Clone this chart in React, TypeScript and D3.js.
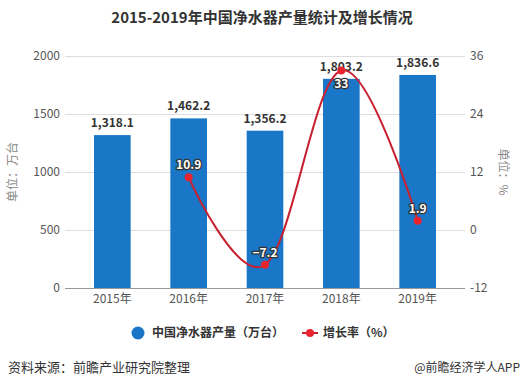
import React, { useEffect, useRef } from 'react';
import * as d3 from 'd3';

const years = ['2015年', '2016年', '2017年', '2018年', '2019年'];
const output = [1318.1, 1462.2, 1356.2, 1803.2, 1836.6];
const growthYears = ['2016年', '2017年', '2018年', '2019年'];
const growth = [10.9, -7.2, 33, 1.9];
const leftTicks = [0, 500, 1000, 1500, 2000];
const rightTicks = [-12, 0, 12, 24, 36];

const FONT = '"Noto Sans CJK SC", "Noto Sans", sans-serif';

export default function App() {
  const ref = useRef<SVGSVGElement>(null);

  useEffect(() => {
    const svg = d3.select(ref.current);
    svg.selectAll('*').remove();

    const W = 524, H = 388;
    const left = 65, right = 465, top = 56, bottom = 288;

    const x = d3.scaleBand<string>()
      .domain(years)
      .range([left, right])
      .paddingInner(0.52)
      .paddingOuter(0.38);
    const yL = d3.scaleLinear().domain([0, 2000]).range([bottom, top]);
    const yR = d3.scaleLinear().domain([-12, 36]).range([bottom, top]);
    const cx = (d: string) => (x(d) as number) + x.bandwidth() / 2;

    svg.append('rect').attr('width', W).attr('height', H).attr('fill', '#fff');

    // title
    svg.append('text')
      .attr('x', W / 2).attr('y', 23)
      .attr('text-anchor', 'middle')
      .attr('font-size', 15).attr('font-weight', 'bold')
      .attr('fill', '#333')
      .text('2015-2019年中国净水器产量统计及增长情况');

    // grid
    svg.append('g').selectAll('line')
      .data(leftTicks)
      .enter().append('line')
      .attr('x1', left).attr('x2', right)
      .attr('y1', d => yL(d) + 0.5).attr('y2', d => yL(d) + 0.5)
      .attr('stroke', d => (d === 0 ? '#999' : '#ddd'))
      .attr('stroke-width', 1);

    // left ticks
    svg.append('g').selectAll('text')
      .data(leftTicks)
      .enter().append('text')
      .attr('x', 60).attr('y', d => yL(d) + 4)
      .attr('text-anchor', 'end')
      .attr('font-size', 12).attr('fill', '#555')
      .text(d => String(d));

    // right ticks
    svg.append('g').selectAll('text')
      .data(rightTicks)
      .enter().append('text')
      .attr('x', 470).attr('y', d => yR(d) + 4)
      .attr('text-anchor', 'start')
      .attr('font-size', 12).attr('fill', '#555')
      .text(d => String(d));

    // axis titles
    svg.append('text')
      .attr('transform', `translate(17, ${(top + bottom) / 2}) rotate(-90)`)
      .attr('text-anchor', 'middle')
      .attr('font-size', 12).attr('fill', '#888')
      .text('单位：万台');
    svg.append('text')
      .attr('transform', `translate(499, ${(top + bottom) / 2}) rotate(90)`)
      .attr('text-anchor', 'middle')
      .attr('font-size', 12).attr('fill', '#888')
      .text('单位：%');

    // x labels
    svg.append('g').selectAll('text')
      .data(years)
      .enter().append('text')
      .attr('x', d => cx(d)).attr('y', 303)
      .attr('text-anchor', 'middle')
      .attr('font-size', 12).attr('fill', '#555')
      .text(d => d);

    // bars
    svg.append('g').selectAll('rect')
      .data(output)
      .enter().append('rect')
      .attr('x', (d, i) => x(years[i]) as number)
      .attr('y', d => yL(d))
      .attr('width', x.bandwidth())
      .attr('height', d => bottom - yL(d))
      .attr('fill', '#1a76c6');

    svg.append('g').selectAll('text')
      .data(output)
      .enter().append('text')
      .attr('x', (d, i) => cx(years[i]))
      .attr('y', d => yL(d) - 8)
      .attr('text-anchor', 'middle')
      .attr('font-size', 12).attr('font-weight', 'bold')
      .attr('fill', '#333')
      .text(d => d3.format(',.1f')(d));

    // growth line
    const pts: [number, number][] = growth.map((g, i) => [cx(growthYears[i]), yR(g)]);
    svg.append('path')
      .attr('d', d3.line().curve(d3.curveCardinal.tension(-0.1))(pts) as string)
      .attr('fill', 'none')
      .attr('stroke', '#c8202f')
      .attr('stroke-width', 2);

    svg.append('g').selectAll('circle')
      .data(pts)
      .enter().append('circle')
      .attr('cx', d => d[0]).attr('cy', d => d[1])
      .attr('r', 4)
      .attr('fill', '#e8242e');

    svg.append('g').selectAll('text')
      .data(growth)
      .enter().append('text')
      .attr('x', (d, i) => pts[i][0])
      .attr('y', (d, i) => (pts[i][1] - 12 < top + 20 ? pts[i][1] + 17 : pts[i][1] - 8))
      .attr('text-anchor', 'middle')
      .attr('font-size', 12).attr('font-weight', 'bold')
      .attr('fill', '#fff')
      .attr('stroke', '#333').attr('stroke-width', 2.5)
      .attr('stroke-linejoin', 'round')
      .attr('paint-order', 'stroke')
      .text(d => (d < 0 ? '−' + Math.abs(d) : String(d)));

    // legend
    const lg = svg.append('g').attr('font-size', 12).attr('fill', '#333');
    lg.append('circle').attr('cx', 138).attr('cy', 333).attr('r', 6.5).attr('fill', '#1a76c6');
    lg.append('text').attr('x', 152).attr('y', 337).attr('font-weight', 'bold')
      .text('中国净水器产量（万台）');
    lg.append('line').attr('x1', 302).attr('x2', 318).attr('y1', 333).attr('y2', 333)
      .attr('stroke', '#c8202f').attr('stroke-width', 2);
    lg.append('circle').attr('cx', 310).attr('cy', 333).attr('r', 4).attr('fill', '#e8242e');
    lg.append('text').attr('x', 323).attr('y', 337).attr('font-weight', 'bold')
      .text('增长率（%）');

    // footer
    svg.append('text')
      .attr('x', 8).attr('y', 372)
      .attr('font-size', 13).attr('fill', '#333')
      .text('资料来源：前瞻产业研究院整理');
    svg.append('text')
      .attr('x', 520).attr('y', 372)
      .attr('text-anchor', 'end')
      .attr('font-size', 12).attr('fill', '#333')
      .text('@前瞻经济学人APP');
  }, []);

  return (
    <svg
      ref={ref}
      width={524}
      height={388}
      style={{ position: 'absolute', left: 0, top: 0, fontFamily: FONT }}
    />
  );
}
